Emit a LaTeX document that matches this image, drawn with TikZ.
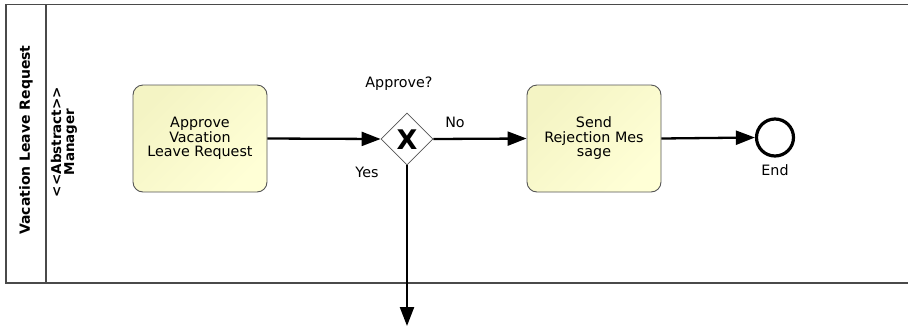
\documentclass[tikz,border=0pt]{standalone}
\usepackage{fontspec}
\setmainfont{DejaVu Sans}
\usetikzlibrary{arrows.meta,shapes.geometric}
\definecolor{poolgray}{HTML}{4A4A4A}
\definecolor{taskedge}{HTML}{555555}
\definecolor{taskA}{HTML}{F4F4C4}
\definecolor{taskB}{HTML}{FFFFD6}
\tikzset{
  poolline/.style={draw=poolgray, line width=1.3pt},
  task/.style={draw=taskedge, line width=0.9pt, rounded corners=10pt,
    minimum width=134pt, minimum height=107pt, align=center,
    left color=taskA, right color=taskB, shading angle=45,
    font=\fontsize{14.3}{14.5}\selectfont, inner sep=2pt},
  xgate/.style={diamond, draw=taskedge, line width=0.8pt, fill=white,
    minimum width=52pt, minimum height=52pt, inner sep=0pt},
  endevent/.style={circle, draw=black, line width=3.2pt, fill=white,
    minimum size=37pt, inner sep=0pt},
  flow/.style={draw=black, line width=2.3pt,
    -{Triangle[length=19pt,width=14pt]}},
  lbl/.style={font=\fontsize{14.3}{15}\selectfont, inner sep=0pt},
  poollbl/.style={font=\bfseries\fontsize{14}{14.5}\selectfont, rotate=90, inner sep=0pt, align=center},
}
\begin{document}
\begin{tikzpicture}[x=1pt,y=-1pt]
  \useasboundingbox (0,0) rectangle (908,325);
  % pool frame and lane divider
  \draw[poolline] (912,4.5) -- (6,4.5) -- (6,283) -- (912,283);
  \draw[poolline] (46,4.5) -- (46,283);
  \node[poollbl] (pool) at (26,140) {Vacation Leave Request};
  \node[poollbl, font=\bfseries\fontsize{13.5}{13}\selectfont] (lane) at (64,142) {{<}{<}Abstract{>}{>}\\Manager};

  % flow nodes
  \node[task] (approve) at (200,138.5) {Approve\\Vacation\\Leave Request};
  \node[xgate] (gw) at (407,139) {};
  \node[font=\bfseries\fontsize{27}{27}\selectfont, inner sep=0pt] (gwx) at (407,140) {X};
  \node[task] (reject) at (594,138.5) {Send\\Rejection Mes\\sage};
  \node[endevent] (end) at (775,137.5) {};
  \coordinate (out) at (407,326);

  % labels
  \node[lbl] (q) at (399,84) {Approve?};
  \node[lbl] (yes) at (367,172) {Yes};
  \node[lbl] (no) at (455,122) {No};
  \node[lbl] (endl) at (775,170) {End};

  % sequence flows
  \draw[flow] (approve.east) -- (gw.west);
  \draw[flow] (gw.east) -- (reject.west);
  \draw[flow] (reject.east) -- (end.west);
  \draw[flow] (gw.south) -- (out);
\end{tikzpicture}
\end{document}
